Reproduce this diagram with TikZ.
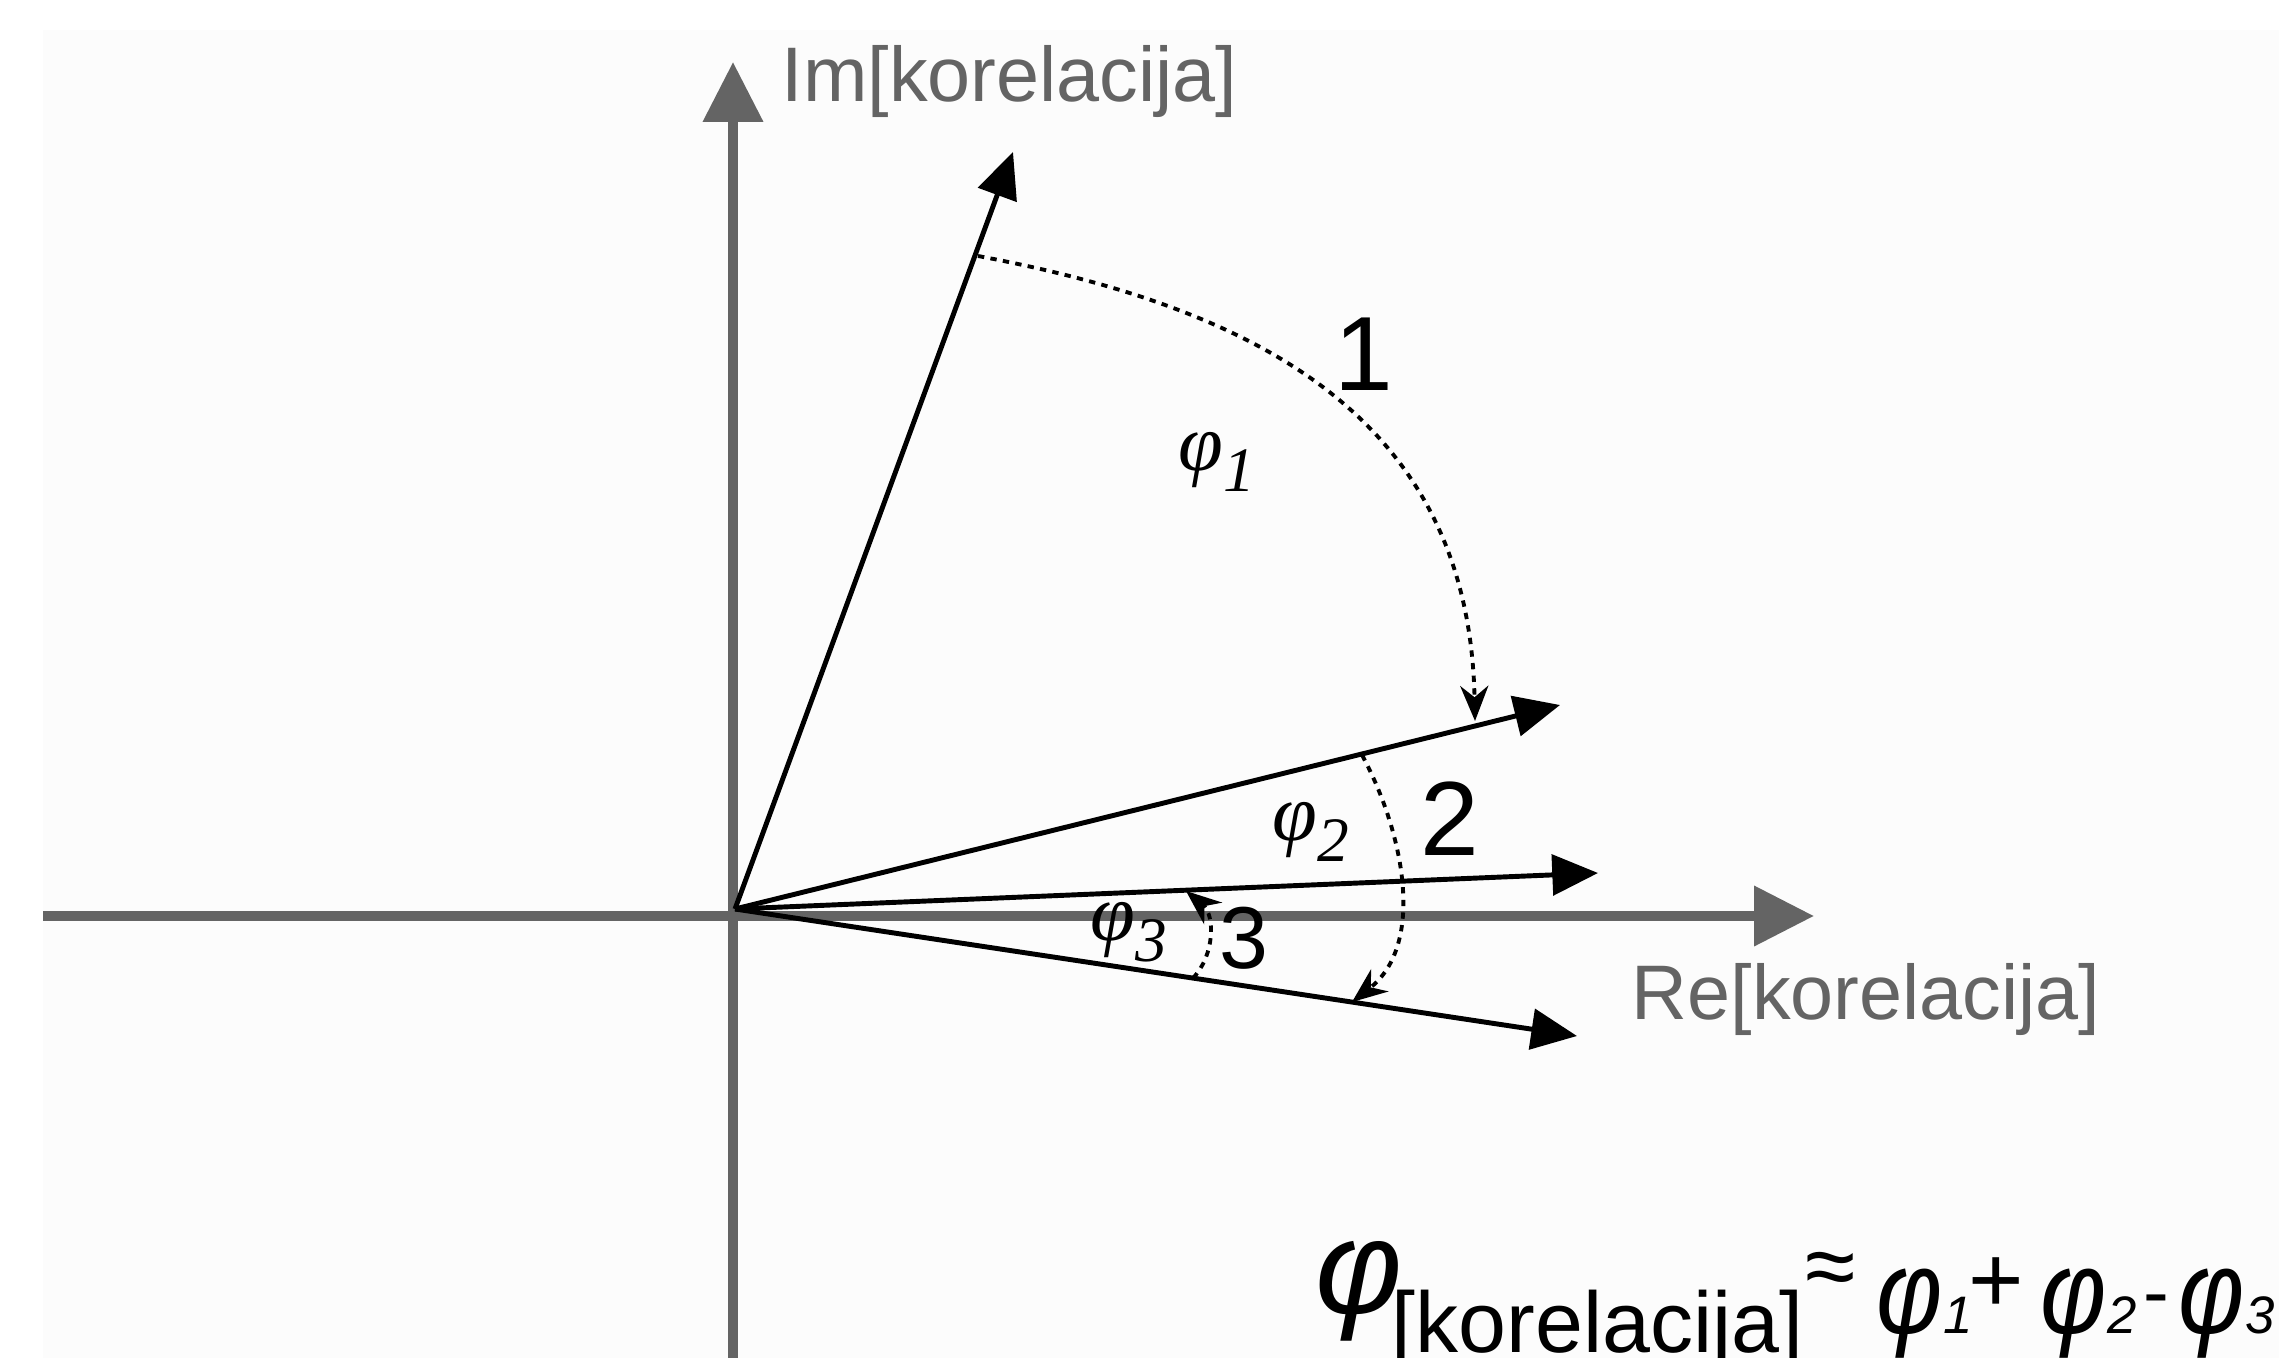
\documentclass[tikz,border=0pt]{standalone}
\usepackage{fontspec}
\setmainfont{Liberation Sans}
\newfontfamily\greekfont{Liberation Serif}
\usepackage{graphicx}
\usepackage{tikz}
\usetikzlibrary{arrows.meta}
\definecolor{axisgray}{RGB}{100,100,100}
\definecolor{panelgray}{RGB}{252,252,252}
\newcommand\phisub[1]{{\greekfont\itshape φ\lower6pt\hbox{\fontsize{18}{18}\selectfont #1}}}
\newcommand\phisum[1]{{\itshape\fontsize{34}{34}\selectfont\scalebox{0.85}[1]{φ}\fontsize{15}{15}\selectfont #1}}

\begin{document}
\begin{tikzpicture}[x=0.01cm,y=-0.01cm,
  axis/.style={draw=axisgray, line width=2.8pt, -{Triangle[length=17pt,width=16.5pt]}},
  vec/.style={line width=1.4pt, -{Triangle[length=13pt,width=11.5pt]}},
  turn/.style={line width=1.1pt, dash pattern=on 1.8pt off 1.8pt,
               -{Stealth[length=10pt,width=8pt]}},
  axlabel/.style={text=axisgray, font=\fontsize{22}{26}\selectfont,
                  inner sep=0pt, anchor=base west},
  num/.style={font=\fontsize{30}{34}\selectfont, inner sep=0pt, anchor=base},
  ang/.style={font=\fontsize{23}{26}\selectfont, inner sep=0pt, anchor=base west},
  sum/.style={font=\fontsize{30}{34}\selectfont, inner sep=0pt, anchor=base west},
  op/.style={inner sep=0pt, anchor=base}
]
  \useasboundingbox(0,0)rectangle(2279,1358);
  \fill[white](0,0)rectangle(2279,1358);
  \fill[panelgray](43,30)rectangle(2279,1358);

  \coordinate(xl)at(43,916);
  \coordinate(xr)at(1814,916);
  \coordinate(yb)at(733,1358);
  \coordinate(yt)at(733,62);
  \draw[axis](xl)--(xr);
  \draw[axis](yb)--(yt);

  \coordinate(o)at(735,909);
  \coordinate(z1)at(1013,152);
  \coordinate(z2)at(1560,705);
  \coordinate(z3)at(1598,873);
  \coordinate(z4)at(1577,1036);
  \draw[vec](o)--(z1);
  \draw[vec](o)--(z2);
  \draw[vec](o)--(z3);
  \draw[vec](o)--(z4);

  \coordinate(a1s)at(978,256);
  \coordinate(a1e)at(1475,721);
  \coordinate(a2s)at(1362,755);
  \coordinate(a2e)at(1352,1002);
  \coordinate(a3s)at(1193,978);
  \coordinate(a3e)at(1186,891);
  \draw[turn](a1s)..controls(1261,309)and(1469,420)..(a1e);
  \draw[turn](a2s)..controls(1405,835)and(1425,945)..(a2e);
  \draw[turn](a3s)..controls(1215,955)and(1215,915)..(a3e);

  \node[axlabel](imlab)at(781,102){Im[korelacija]};
  \node[axlabel](relab)at(1631,1019){Re[korelacija]};

  \node[num](n1)at(1364,390){1};
  \node[num](n2)at(1450,855){2};
  \node[num,font=\fontsize{25}{28}\selectfont](n3)at(1244,968){3};

  \node[ang](p1)at(1178,470){\phisub{1}};
  \node[ang](p2)at(1272,840){\phisub{2}};
  \node[ang](p3)at(1090,940){\phisub{3}};

  \node[sum,font=\fontsize{38}{40}\selectfont\itshape](fk)at(1315,1313){φ};
  \node[sum,font=\fontsize{24.5}{28}\selectfont](fksub)at(1391,1352){[korelacija]};
  \node[op,font=\fontsize{26}{28}\selectfont,anchor=center](fapprox)at(1831,1275){≈};
  \node[sum](f1)at(1876,1333){\phisum{1}};
  \node[op,font=\fontsize{27}{28}\selectfont](fplus)at(1996,1312){+};
  \node[sum](f2)at(2040,1333){\phisum{2}};
  \node[op,font=\fontsize{22}{24}\selectfont](fminus)at(2156,1318){-};
  \node[sum](f3)at(2178,1333){\phisum{3}};
\end{tikzpicture}
\end{document}
